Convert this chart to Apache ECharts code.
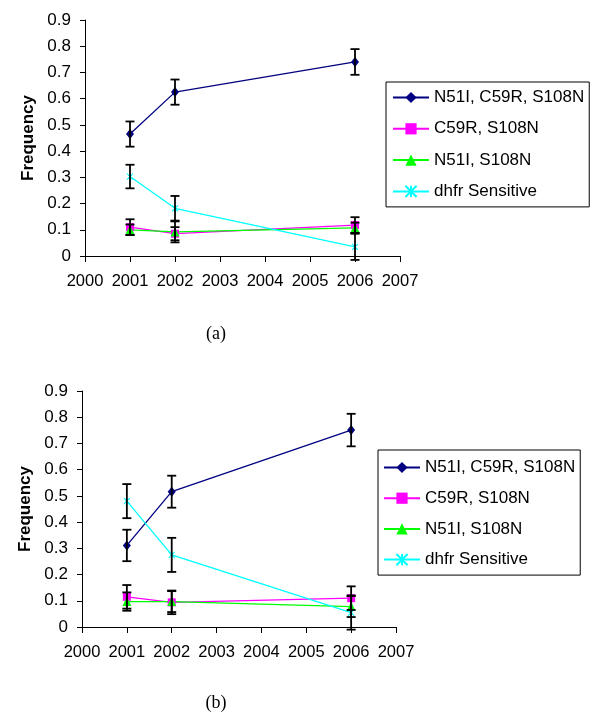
<!DOCTYPE html>
<html>
<head>
<meta charset="utf-8">
<script src="https://cdn.jsdelivr.net/npm/echarts@6/dist/echarts.min.js"></script>
<style>
html,body{margin:0;padding:0;background:#fff;}
#main{width:600px;height:727px;}
</style>
</head>
<body>
<div id="main"></div>
<script>
// ---- data ----
var years = [2001, 2002, 2006];
var seriesNames = ['N51I, C59R, S108N', 'C59R, S108N', 'N51I, S108N', 'dhfr Sensitive'];
var xTicks = [2000, 2001, 2002, 2003, 2004, 2005, 2006, 2007];
var yTicks = [0, 0.1, 0.2, 0.3, 0.4, 0.5, 0.6, 0.7, 0.8, 0.9];

// panel (a)
var aTriple = [0.465, 0.625, 0.74];
var aTripleErr = [0.048, 0.048, 0.049];
var aC59R = [0.11, 0.085, 0.118];
var aC59RErr = [0.03, 0.025, 0.03];
var aN51I = [0.10, 0.092, 0.107];
var aN51IErr = [0.02, 0.04, 0.02];
var aSens = [0.303, 0.182, 0.035];
var aSensErr = [0.045, 0.047, 0.05];

// panel (b)
var bTriple = [0.311, 0.516, 0.751];
var bTripleErr = [0.06, 0.061, 0.062];
var bC59R = [0.115, 0.094, 0.11];
var bC59RErr = [0.045, 0.045, 0.045];
var bN51I = [0.097, 0.097, 0.078];
var bN51IErr = [0.035, 0.04, 0.04];
var bSens = [0.48, 0.275, 0.055];
var bSensErr = [0.065, 0.065, 0.065];

var captions = ['(a)', '(b)'];

// ---- styles ----
var colors = ['#000080', '#FF00FF', '#00FF00', '#00FFFF'];
var symbols = ['diamond', 'rect', 'triangle', 'path://M0,0L10,10M10,0L0,10M5,0L5,10'];
var symbolSizes = [[8, 10], 8, 9, 6];
var font = '"Liberation Sans", Arial, sans-serif';

function pairs(vals) {
  return years.map(function (y, i) { return [y, vals[i]]; });
}
function errData(vals, errs) {
  return years.map(function (y, i) { return [y, vals[i] - errs[i], vals[i] + errs[i]]; });
}
function lineSeries(k, vals, gi) {
  return {
    type: 'line', name: seriesNames[k], xAxisIndex: gi, yAxisIndex: gi,
    data: pairs(vals), symbol: symbols[k], symbolSize: symbolSizes[k],
    lineStyle: { color: colors[k], width: 1.3 },
    itemStyle: { color: colors[k], borderColor: colors[k], borderWidth: k === 3 ? 1.1 : 0 },
    emphasis: { disabled: true }, z: 3, animation: false
  };
}
function errSeries(vals, errs, gi) {
  return {
    type: 'custom', xAxisIndex: gi, yAxisIndex: gi, data: errData(vals, errs),
    encode: { x: 0, y: [1, 2] }, z: 5, animation: false, clip: false,
    renderItem: function (params, api) {
      var x = api.value(0);
      var pHi = api.coord([x, api.value(2)]);
      var pLo = api.coord([x, api.value(1)]);
      var w = 4.5;
      var st = { stroke: '#000', lineWidth: 1.8 };
      return {
        type: 'group', children: [
          { type: 'line', shape: { x1: pHi[0], y1: pHi[1], x2: pLo[0], y2: pLo[1] }, style: st },
          { type: 'line', shape: { x1: pHi[0] - w, y1: pHi[1], x2: pHi[0] + w, y2: pHi[1] }, style: st },
          { type: 'line', shape: { x1: pLo[0] - w, y1: pLo[1], x2: pLo[0] + w, y2: pLo[1] }, style: st }
        ]
      };
    }
  };
}
function xAxis(gi) {
  return {
    type: 'value', gridIndex: gi, min: xTicks[0], max: xTicks[xTicks.length - 1], interval: 1,
    axisLine: { show: true, lineStyle: { color: '#000', width: 1 } },
    axisTick: { show: true, length: 6, lineStyle: { color: '#000' } },
    axisLabel: { color: '#000', fontSize: 16.5, fontFamily: font, margin: 17, formatter: function (v) { return String(v); } },
    splitLine: { show: false }
  };
}
function yAxis(gi) {
  return {
    type: 'value', gridIndex: gi, min: yTicks[0], max: yTicks[yTicks.length - 1], interval: 0.1,
    name: 'Frequency', nameLocation: 'middle', nameGap: 48,
    nameTextStyle: { color: '#000', fontSize: 17, fontWeight: 'bold', fontFamily: font },
    axisLine: { show: true, lineStyle: { color: '#000', width: 1 } },
    axisTick: { show: true, length: 5, lineStyle: { color: '#000' } },
    axisLabel: { color: '#000', fontSize: 17, fontFamily: font, margin: 14,
      formatter: function (v) { var r = Math.round(v * 10) / 10; return r === 0 ? '0' : r.toFixed(1); } },
    splitLine: { show: false }
  };
}
function legend(left, top, itemGap, pad) {
  return {
    orient: 'vertical', left: left, top: top, data: seriesNames,
    itemWidth: 36, itemHeight: 14, itemGap: itemGap, padding: pad,
    borderColor: '#000', borderWidth: 1, backgroundColor: '#fff',
    textStyle: { color: '#000', fontSize: 17, fontFamily: font, lineHeight: 14 },
    selectedMode: false
  };
}

var series = [];
var panels = [
  [aTriple, aC59R, aN51I, aSens, aTripleErr, aC59RErr, aN51IErr, aSensErr],
  [bTriple, bC59R, bN51I, bSens, bTripleErr, bC59RErr, bN51IErr, bSensErr]
];
panels.forEach(function (p, gi) {
  for (var k = 0; k < 4; k++) series.push(lineSeries(k, p[k], gi));
  for (var k2 = 0; k2 < 4; k2++) series.push(errSeries(p[k2], p[k2 + 4], gi));
});

var chart = echarts.init(document.getElementById('main'), null, { renderer: 'canvas' });
chart.setOption({
  backgroundColor: '#fff',
  animation: false,
  grid: [
    { left: 85, top: 20, width: 315, height: 236 },
    { left: 82, top: 391, width: 314, height: 236 }
  ],
  xAxis: [xAxis(0), xAxis(1)],
  yAxis: [yAxis(0), yAxis(1)],
  legend: [
    legend(386, 82, 14.3, [7, 5, 7, 6]),
    legend(378, 450, 13.7, [9, 5, 7, 5])
  ],
  graphic: [
    { type: 'text', x: 216, y: 334, style: { text: captions[0], align: 'center', verticalAlign: 'middle', font: '18px "Liberation Serif", "Times New Roman", serif', fill: '#000' } },
    { type: 'text', x: 216, y: 703, style: { text: captions[1], align: 'center', verticalAlign: 'middle', font: '18px "Liberation Serif", "Times New Roman", serif', fill: '#000' } }
  ],
  series: series
});
</script>
</body>
</html>
